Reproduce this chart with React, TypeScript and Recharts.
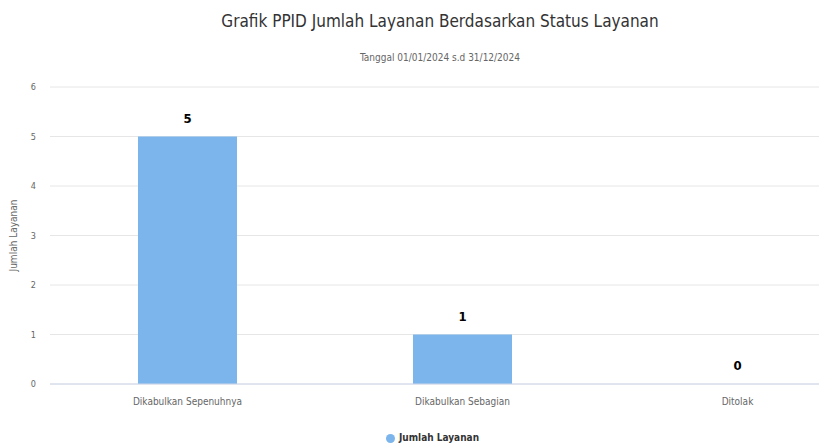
import { ComposedChart, Bar, Line, XAxis, YAxis, CartesianGrid, Legend, LabelList } from "recharts";

const categories = ["Dikabulkan Sepenuhnya", "Dikabulkan Sebagian", "Ditolak"];
const jumlahLayanan = [5, 1, 0];
const yTicks = [0, 1, 2, 3, 4, 5, 6];

const chartData = categories.map((name, i) => ({ name, jumlah: jumlahLayanan[i] }));

const FONT = "'Liberation Sans Narrow', 'DejaVu Sans Condensed', sans-serif";
const CHART_W = 880;

const App = () => {
  return (
    <div
      style={{
        position: "absolute",
        left: 0,
        top: 0,
        width: 819,
        height: 447,
        overflow: "hidden",
        background: "#fff",
        fontFamily: FONT,
      }}
    >
      <div
        style={{
          position: "absolute",
          top: 11,
          left: 0,
          width: CHART_W,
          textAlign: "center",
          fontSize: 17,
          color: "#333",
        }}
      >
        Grafik PPID Jumlah Layanan Berdasarkan Status Layanan
      </div>
      <div
        style={{
          position: "absolute",
          top: 52,
          left: 0,
          width: CHART_W,
          textAlign: "center",
          fontSize: 10,
          color: "#666",
        }}
      >
        Tanggal 01/01/2024 s.d 31/12/2024
      </div>

      <div style={{ position: "absolute", left: 0, top: 0 }}>
        <ComposedChart
          width={CHART_W}
          height={447}
          data={chartData}
          margin={{ top: 87, right: 5, left: 0, bottom: 4 }}
          barCategoryGap="32%"
        >
          <CartesianGrid vertical={false} stroke="#e6e6e6" />
          <XAxis
            dataKey="name"
            height={48}
            tickLine={false}
            tickSize={0}
            tickMargin={14}
            axisLine={{ stroke: "#ccd6eb" }}
            tick={{ fill: "#666", fontSize: 10, fontFamily: FONT }}
          />
          <YAxis
            width={50}
            domain={[0, 6]}
            ticks={yTicks}
            axisLine={false}
            tickLine={false}
            tickSize={0}
            tickMargin={14}
            tick={{ fill: "#666", fontSize: 9, fontFamily: FONT }}
            label={{
              value: "Jumlah Layanan",
              angle: -90,
              position: "insideLeft",
              offset: 13,
              style: { fill: "#666", fontSize: 10, fontFamily: FONT, textAnchor: "middle" },
            }}
          />
          <Legend
            verticalAlign="bottom"
            iconType="circle"
            iconSize={9}
            wrapperStyle={{ fontSize: 10, fontWeight: "bold", fontFamily: FONT }}
            formatter={(value) => <span style={{ color: "#333" }}>{value}</span>}
          />
          <Bar dataKey="jumlah" name="Jumlah Layanan" fill="#7cb5ec" isAnimationActive={false} />
          {/* invisible line carrying the data labels so the 0 value gets one too */}
          <Line
            dataKey="jumlah"
            stroke="none"
            dot={false}
            activeDot={false}
            legendType="none"
            isAnimationActive={false}
          >
            <LabelList
              dataKey="jumlah"
              position="top"
              offset={14}
              style={{ fill: "#000", fontSize: 13, fontWeight: "bold", fontFamily: FONT }}
            />
          </Line>
        </ComposedChart>
      </div>
    </div>
  );
};

export default App;
